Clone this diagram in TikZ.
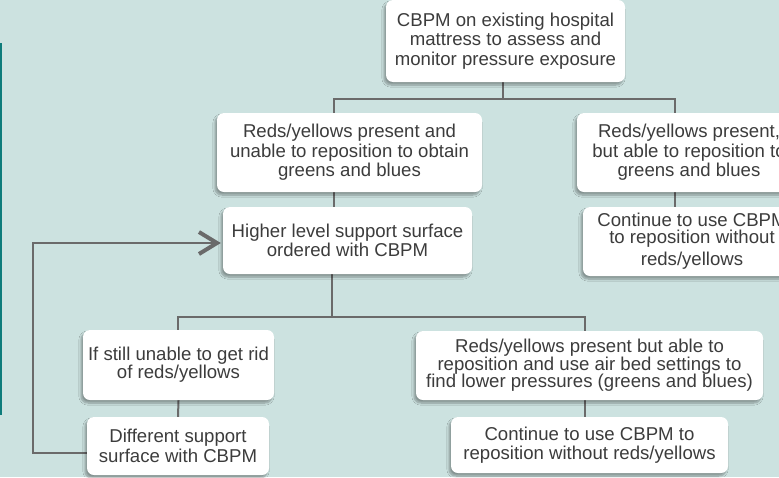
\documentclass[tikz,border=0pt]{standalone}
\usepackage{fontspec}
\setmainfont{Liberation Sans}
\usetikzlibrary{arrows.meta,calc,shadows.blur}
\definecolor{bgc}{HTML}{CCE2E0}
\definecolor{tealbar}{HTML}{0E7C7B}
\definecolor{conn}{HTML}{6A6A6A}
\definecolor{txt}{HTML}{3C3C3C}
\pgfdeclarelayer{back}
\pgfdeclarelayer{mid}
\pgfsetlayers{back,mid,main}
\begin{document}
\begin{tikzpicture}[x=1pt,y=-1pt,
  box/.style={fill=white, rounded corners=7pt, align=center, inner sep=0pt,
    text=txt, font=\fontsize{18.6}{19.5}\selectfont,
    blur shadow={shadow xshift=-2pt, shadow yshift=-3pt, shadow blur steps=8, shadow opacity=35}},
  link/.style={draw=conn, line width=2pt},
  loop/.style={draw=conn, line width=2pt, -{Straight Barb[length=18pt, width=22pt, line width=4pt]}, shorten >=2pt}]
\useasboundingbox (0,0) rectangle (779,477);

% boxes
\node[box, minimum width=239pt, minimum height=82pt] (top) at (505.5,41)
  {CBPM on existing hospital\\mattress to assess and\\monitor pressure exposure};
\node[box, minimum width=265pt, minimum height=79pt] (r1) at (349.5,152.5)
  {Reds/yellows present and\\unable to reposition to obtain\\greens and blues};
\node[box, minimum width=224pt, minimum height=79pt] (rr) at (689,152.5)
  {Reds/yellows present,\\but able to reposition to\\greens and blues};
\node[box, minimum width=249pt, minimum height=67pt] (hl) at (347.5,240.5)
  {Higher level support surface\\ordered with CBPM};
\node[box, minimum width=218pt, minimum height=69pt] (cr) at (692,241.5)
  {Continue to use CBPM\\[-3pt]to reposition without\\[3pt]reds/yellows};
\node[box, minimum width=191pt, minimum height=70pt, font=\fontsize{18.6}{18}\selectfont] (st) at (178.5,365)
  {If still unable to get rid\\of reds/yellows};
\node[box, minimum width=182pt, minimum height=58pt] (d) at (178,446)
  {Different support\\surface with CBPM};
\node[box, minimum width=347pt, minimum height=69pt, font=\fontsize{18.6}{17.5}\selectfont] (rb) at (589.5,365.5)
  {Reds/yellows present but able to\\reposition and use air bed settings to\\find lower pressures (greens and blues)};
\node[box, minimum width=277pt, minimum height=56pt] (cb) at (589.5,445)
  {Continue to use CBPM to\\reposition without reds/yellows};

% bus coordinates
\coordinate (b1m) at (503,99);
\coordinate (b1l) at (334,99);
\coordinate (b1r) at (675,99);
\coordinate (b2m) at (332,317);
\coordinate (b2l) at (178,317);
\coordinate (b2r) at (585,317);
\coordinate (loopA) at ($(d.west)+(0,7)$);
\coordinate (c1) at (33,453);
\coordinate (c2) at (33,243);

\begin{pgfonlayer}{back}
  \fill[bgc] (0,0) rectangle (779,477);
  \fill[tealbar] (0,43) rectangle (2,415);
\end{pgfonlayer}

\begin{pgfonlayer}{mid}
  \draw[link] (top.south -| b1m) -- (b1m);
  \draw[link] (r1.north -| b1l) -- (b1l) -- (b1r) -- (rr.north -| b1r);
  \draw[link] (r1.south -| b1l) -- (hl.north -| b1l);
  \draw[link] (rr.south -| b1r) -- (cr.north -| b1r);
  \draw[link] (hl.south -| b2m) -- (b2m);
  \draw[link] (st.north -| b2l) -- (b2l) -- (b2r) -- (rb.north -| b2r);
  \draw[link] (st.south) -- (d.north);
  \draw[link] (rb.south -| b2r) -- (cb.north -| b2r);
  \draw[loop] (loopA) -- (c1) -- (c2) -- (c2 -| hl.west);
\end{pgfonlayer}
\end{tikzpicture}
\end{document}
